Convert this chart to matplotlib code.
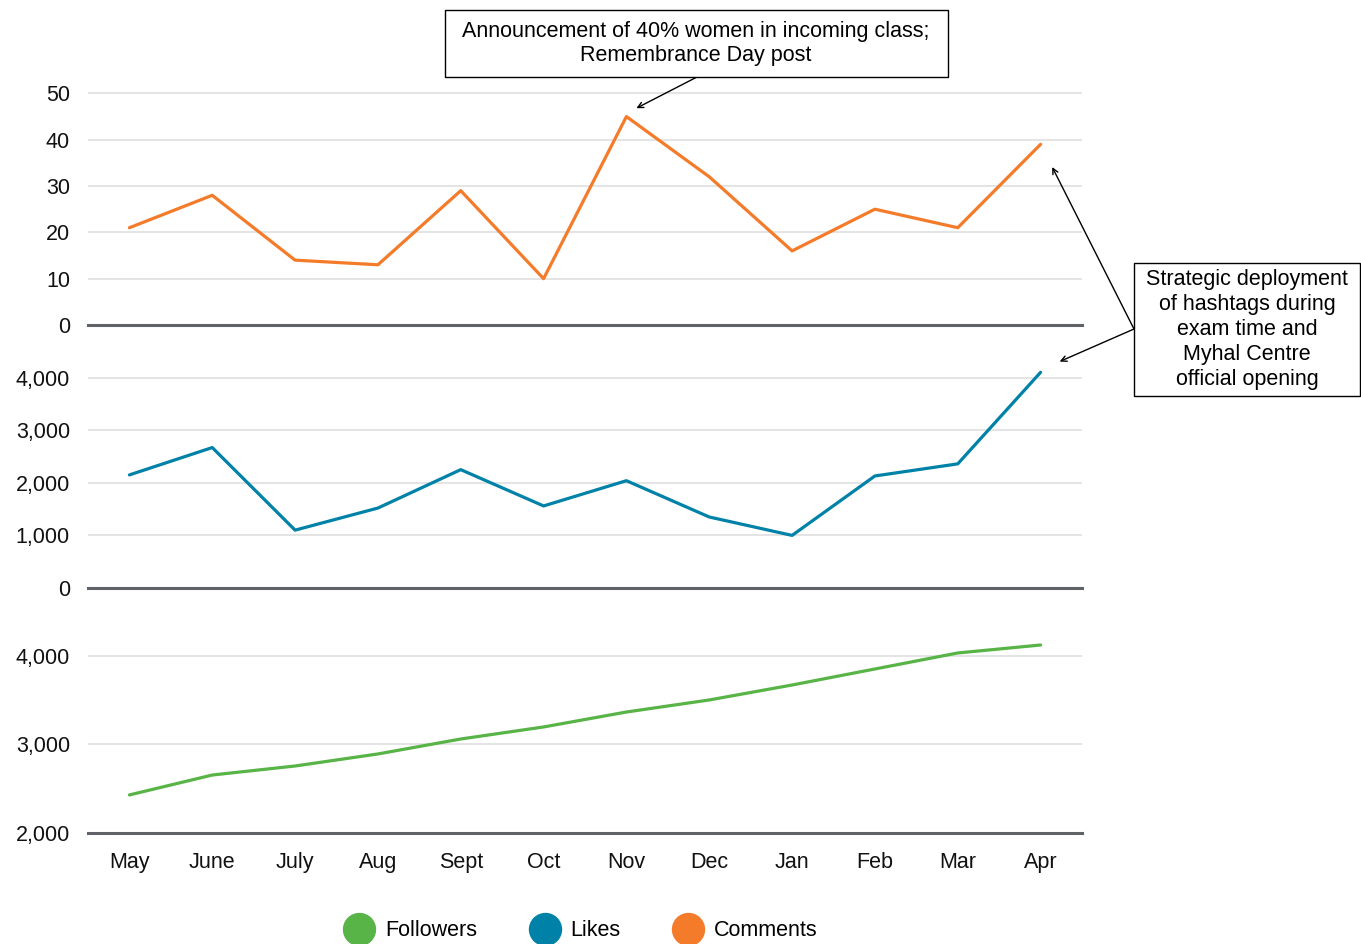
import matplotlib.pyplot as plt
from matplotlib.lines import Line2D
from matplotlib.patches import Rectangle
from matplotlib.ticker import FuncFormatter

plt.rcParams['font.family'] = ['Liberation Sans', 'DejaVu Sans']

months = ['May', 'June', 'July', 'Aug', 'Sept', 'Oct', 'Nov', 'Dec', 'Jan', 'Feb', 'Mar', 'Apr']
comments = [21, 28, 14, 13, 29, 10, 45, 32, 16, 25, 21, 39]
likes = [2150, 2670, 1100, 1520, 2250, 1560, 2040, 1350, 1000, 2130, 2360, 4100]
followers = [2430, 2655, 2757, 2893, 3062, 3198, 3367, 3503, 3672, 3853, 4034, 4124]

c_orange = '#f47b2a'
c_blue = '#0082a8'
c_green = '#58b447'
base_col = '#5f6368'
grid_col = '#dcdcdc'

W, H = 1361, 944
fig = plt.figure(figsize=(W / 100, H / 100), dpi=100)

def px_axes(top, bottom):
    return fig.add_axes([88 / W, (H - bottom) / H, 994 / W, (bottom - top) / H])

def px_box(x0, y0, x1, y1):
    fig.patches.append(Rectangle((x0 / W, 1 - y1 / H), (x1 - x0) / W, (y1 - y0) / H,
                                 transform=fig.transFigure, fc='white', ec='black', lw=1, zorder=5))

ax1 = px_axes(92, 325)
ax2 = px_axes(325, 588)
ax3 = px_axes(588, 833)

x = list(range(len(months)))
comma = FuncFormatter(lambda v, p: '{:,.0f}'.format(v))

panels = [
    (ax1, comments, c_orange, (0, 50.3), [0, 10, 20, 30, 40, 50], None),
    (ax2, likes, c_blue, (0, 5000), [0, 1000, 2000, 3000, 4000], comma),
    (ax3, followers, c_green, (2000, 4768), [2000, 3000, 4000], comma),
]
for ax, vals, col, lim, ticks, fmt in panels:
    ax.plot(x, vals, color=col, lw=2.3, solid_capstyle='round', zorder=3)
    ax.set_xlim(-0.5, 11.5)
    ax.set_ylim(*lim)
    ax.set_yticks(ticks)
    if fmt:
        ax.yaxis.set_major_formatter(fmt)
    ax.yaxis.grid(True, color=grid_col, lw=1.1)
    ax.set_axisbelow(True)
    for s in ['top', 'left', 'right']:
        ax.spines[s].set_visible(False)
    ax.spines['bottom'].set_color(base_col)
    ax.spines['bottom'].set_linewidth(2.2)
    ax.spines['bottom'].set_zorder(4)
    ax.tick_params(axis='y', length=0, pad=13, labelsize=15.5, colors='#111111')
    ax.tick_params(axis='x', length=0, pad=14, labelsize=15.5, colors='#111111')
    ax.set_xticks(x)
    ax.patch.set_alpha(0)

ax1.set_xticklabels([])
ax2.set_xticklabels([])
ax3.set_xticklabels(months)

# annotation boxes
px_box(445, 10, 948, 77)
px_box(1134, 263, 1360, 396)
fig.text(696 / W, 1 - 43.5 / H, 'Announcement of 40% women in incoming class;\nRemembrance Day post',
         ha='center', va='center', fontsize=15.5, linespacing=1.25, zorder=6)
fig.text(1247 / W, 1 - 329.5 / H, 'Strategic deployment\nof hashtags during\nexam time and\nMyhal Centre\nofficial opening',
         ha='center', va='center', fontsize=15.5, linespacing=1.25, zorder=6)

arrow = dict(arrowstyle='->', color='black', lw=1, shrinkA=0, shrinkB=0)
ax1.annotate('', xy=(6.12, 46.8), xycoords='data', xytext=(697 / W, 1 - 77 / H),
             textcoords='figure fraction', arrowprops=arrow, annotation_clip=False)
ax1.annotate('', xy=(11.14, 34.1), xycoords='data', xytext=(1134 / W, 1 - 329 / H),
             textcoords='figure fraction', arrowprops=arrow, annotation_clip=False)
ax2.annotate('', xy=(11.23, 4305), xycoords='data', xytext=(1134 / W, 1 - 329 / H),
             textcoords='figure fraction', arrowprops=arrow, annotation_clip=False)

handles = [Line2D([], [], ls='none', marker='o', ms=23, color=c) for c in (c_green, c_blue, c_orange)]
fig.legend(handles, ['Followers', 'Likes', 'Comments'], loc='center', bbox_to_anchor=(582 / W, 1 - 931 / H),
           ncol=3, frameon=False, fontsize=15.5, handletextpad=0.6, columnspacing=2.55, handlelength=1.2)

fig.savefig('out.png', dpi=100)
